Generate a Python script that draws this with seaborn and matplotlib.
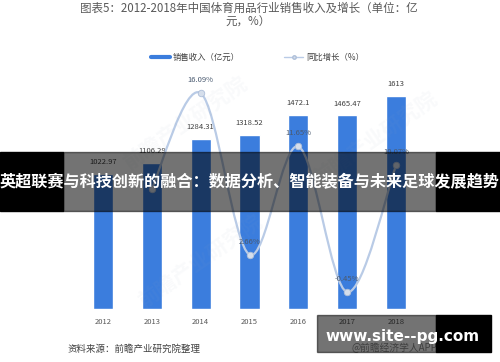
import numpy as np
import pandas as pd
import seaborn as sns
import matplotlib.pyplot as plt
from matplotlib.path import Path
from matplotlib.patches import PathPatch, Rectangle
from matplotlib.lines import Line2D

# data
years = ['2012', '2013', '2014', '2015', '2016', '2017', '2018']
revenue = [1022.97, 1106.29, 1284.31, 1318.52, 1472.1, 1465.47, 1613]
revenue_labels = ['1022.97', '1106.29', '1284.31', '1318.52', '1472.1', '1465.47', '1613']
growth = [None, 8.14, 16.09, 2.66, 11.65, -0.45, 10.07]
growth_labels = ['', '', '16.09%', '2.66%', '11.65%', '-0.45%', '10.07%']

title = '图表5：2012-2018年中国体育用品行业销售收入及增长（单位：亿\n元，%）'
banner = '英超联赛与科技创新的融合：数据分析、智能装备与未来足球发展趋势'

sns.set_style('white')
plt.rcParams['font.family'] = ['Noto Sans CJK SC', 'DejaVu Sans']

bar_color = '#3b7ddd'
line_color = '#b9cbe6'
text_color = '#595959'

df = pd.DataFrame({'year': years, 'revenue': revenue})
dg = pd.DataFrame({'pos': range(len(years)), 'growth': growth}).dropna()

fig = plt.figure(figsize=(5, 3.62), dpi=100)
ax = fig.add_axes([0.157, 0.1464, 0.684, 0.6566])

sns.barplot(x='year', y='revenue', data=df, color=bar_color, width=0.41,
            saturation=1, ax=ax)
for i, v in enumerate(revenue):
    ax.text(i, v + 60, revenue_labels[i], ha='center', va='bottom',
            fontsize=5.5, color='#404040')
ax.set_ylim(0, 1800)
ax.set_xlim(-0.5, 6.5)
ax.set_xlabel('')
ax.set_ylabel('')
ax.set_yticks([])
ax.tick_params(axis='x', length=0, pad=6.5, labelsize=5.5, labelcolor=text_color)
sns.despine(ax=ax, left=True, bottom=True)

# growth line on a second axis, smoothed like the original
ax2 = ax.twinx()
ax2.set_ylim(-1.86, 17.9)
px = dg['pos'].to_numpy(dtype=float)
py = dg['growth'].to_numpy(dtype=float)
pts = np.column_stack([px, py])
verts = [pts[0]]
codes = [Path.MOVETO]
for k in range(len(pts) - 1):
    p0 = pts[max(k - 1, 0)]
    p1 = pts[k]
    p2 = pts[k + 1]
    p3 = pts[min(k + 2, len(pts) - 1)]
    verts += [p1 + (p2 - p0) / 6, p2 - (p3 - p1) / 6, p2]
    codes += [Path.CURVE4] * 3
ax2.add_patch(PathPatch(Path(verts, codes), fill=False, edgecolor=line_color,
                        lw=1.6, zorder=3))
sns.scatterplot(x='pos', y='growth', data=dg, ax=ax2, s=22, color='#d5deeb',
                edgecolor='#aebfd9', linewidth=0.6, zorder=4)
for i, g in zip(dg['pos'], dg['growth']):
    if growth_labels[i]:
        ax2.text(i, g + 0.75, growth_labels[i], ha='center', va='bottom',
                 fontsize=5.5, color='#4a5a70', zorder=6)
ax2.set_xlim(-0.5, 6.5)
ax2.set_yticks([])
ax2.set_ylabel('')
ax2.set_xlabel('')
sns.despine(ax=ax2, left=True, bottom=True, right=True)

# faint diagonal watermarks
for wx, wy in [(0.37, 0.66), (0.40, 0.28), (0.75, 0.62)]:
    fig.text(wx, wy, '前瞻产业研究院', fontsize=15, color='#9aa8c0', alpha=0.06,
             rotation=35, ha='center', va='center', fontweight='bold')

fig.text(0.497, 0.958, title, ha='center', va='center', fontsize=8.3,
         color=text_color, linespacing=1.0)

handles = [Line2D([], [], color=bar_color, lw=3),
           Line2D([], [], color=line_color, lw=1, marker='o', markersize=2.5,
                  markerfacecolor='#d5deeb', markeredgecolor='#aebfd9')]
fig.legend(handles, ['销售收入（亿元）', '同比增长（%）'], loc='center',
           bbox_to_anchor=(0.515, 0.842), ncol=2, frameon=False, fontsize=6,
           handlelength=2.3, handletextpad=0.3, columnspacing=5.3,
           labelcolor='#404040')

fig.text(0.136, 0.036, '资料来源：前瞻产业研究院整理', ha='left', va='center',
         fontsize=6.8, color='#404040', style='italic')

# overlay banner across the middle
fig.patches.append(Rectangle((0, 1 - 211 / 362), 63 / 500, 59 / 362,
                             transform=fig.transFigure, color='black', zorder=10))
fig.patches.append(Rectangle((63 / 500, 1 - 211 / 362), 373 / 500, 59 / 362,
                             transform=fig.transFigure, color='black', alpha=0.55,
                             zorder=10))
fig.patches.append(Rectangle((436 / 500, 1 - 211 / 362), 64 / 500, 59 / 362,
                             transform=fig.transFigure, color='black', zorder=10))
fig.text(0.5, 1 - 181 / 362, banner, ha='center', va='center', fontsize=11.6,
         color='white', fontweight='bold', zorder=11)

# site watermark bottom right
fig.text(352 / 500, 1 - 348 / 362, '@前瞻经济学人APP', ha='left', va='center',
         fontsize=7, color='#8a8a8a', zorder=9)
fig.patches.append(Rectangle((317 / 500, 1 - 352 / 362), 119 / 500, 37 / 362,
                             transform=fig.transFigure, color='black', alpha=0.55,
                             zorder=10))
fig.patches.append(Rectangle((436 / 500, 1 - 352 / 362), 55 / 500, 37 / 362,
                             transform=fig.transFigure, color='black', zorder=10))
fig.text(403 / 500, 1 - 336 / 362, 'www.site--pg.com', ha='center', va='center',
         fontsize=11, color='white', fontweight='bold', family='DejaVu Sans',
         zorder=11)

fig.savefig('out.png', dpi=100)
